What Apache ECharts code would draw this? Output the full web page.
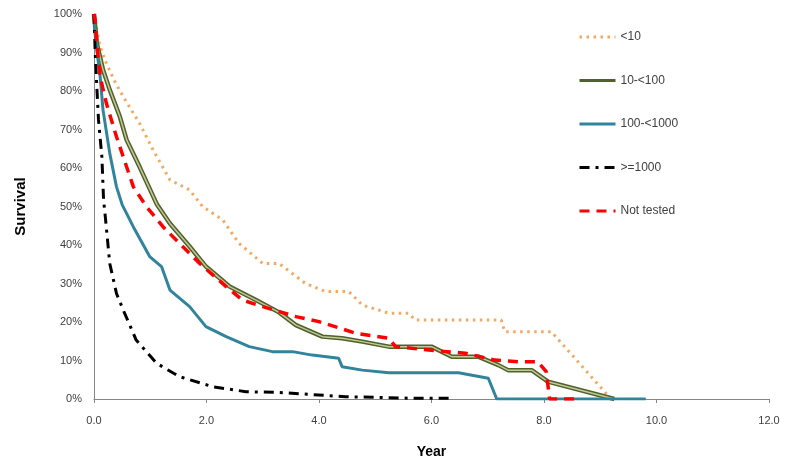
<!DOCTYPE html>
<html lang="en">
<head>
    <meta charset="UTF-8" />
    <title>Survival</title>
    <script src="https://cdn.jsdelivr.net/npm/echarts@6/dist/echarts.min.js"></script>
    <style type="text/css">
        html, body { margin: 0; padding: 0; background: #fff; }
        #chart { width: 785px; height: 466px; }
    </style>
</head>
<body>
    <div id="chart"></div>
    <script type="text/javascript">
        // years / survival (%)
        var yearsLt10 = [0, 0.1, 0.19, 0.35, 0.52, 0.81, 1.05, 1.35, 1.70, 1.93, 2.29, 2.58, 3.0, 3.29, 3.76, 4.12, 4.53, 4.77, 5.24, 5.59, 5.71, 7.24, 7.30, 8.13, 9.19];
        var survLt10 = [100, 92, 88.2, 83, 78.5, 71.6, 64.7, 56.9, 54.3, 50, 46.5, 40.4, 35.2, 35.2, 30, 27.9, 27.9, 24.4, 22.3, 22.3, 20.5, 20.5, 17.5, 17.5, 0];

        var years10 = [0, 0.05, 0.16, 0.28, 0.46, 0.58, 0.81, 1.12, 1.35, 1.70, 1.99, 2.41, 2.88, 3.29, 3.59, 4.06, 4.41, 4.77, 5.24, 6.0, 6.36, 6.83, 7.19, 7.36, 7.78, 8.07, 9.25];
        var surv10 = [100, 92.4, 85.5, 80.3, 73.3, 67.3, 60.3, 50.5, 45.6, 39.6, 34.4, 29.2, 25.7, 22.5, 19.2, 16.2, 15.8, 14.9, 13.6, 13.6, 11, 11, 8.8, 7.5, 7.5, 4.5, 0];

        var years100 = [0, 0.02, 0.05, 0.11, 0.16, 0.28, 0.40, 0.50, 0.70, 0.99, 1.20, 1.35, 1.70, 1.99, 2.35, 2.76, 3.17, 3.53, 3.88, 4.35, 4.41, 4.77, 5.24, 6.48, 7.01, 7.16, 9.81];
        var surv100 = [100, 95.8, 90.6, 83.7, 75.1, 63.8, 55.1, 50.5, 44.7, 37, 34.4, 28.3, 24, 18.8, 16.2, 13.6, 12.3, 12.3, 11.4, 10.6, 8.4, 7.5, 6.8, 6.8, 5.4, 0, 0];

        var years1000 = [0, 0.02, 0.05, 0.08, 0.14, 0.17, 0.2, 0.28, 0.40, 0.52, 0.75, 1.11, 1.52, 2.11, 2.70, 3.29, 3.82, 4.47, 5.06, 5.65, 6.35];
        var surv1000 = [100, 90.6, 81.1, 72.5, 62.9, 51.7, 47.5, 35.2, 27.4, 23.1, 15.3, 9.3, 5.8, 3.2, 1.9, 1.7, 1.2, 0.6, 0.4, 0.2, 0.2];

        var yearsNT = [0, 0.02, 0.05, 0.11, 0.22, 0.40, 0.52, 0.70, 0.93, 1.23, 1.64, 1.88, 2.35, 2.64, 3.0, 3.59, 4.0, 4.65, 5.24, 5.36, 5.95, 6.6, 7.13, 7.54, 7.89, 8.04, 8.10, 8.55];
        var survNT = [100, 98.4, 92.4, 83.7, 76.8, 68.1, 62.9, 55.1, 50, 44.7, 38.7, 35.2, 29.2, 25.7, 24, 21.4, 20.1, 17.1, 15.8, 13.6, 12.7, 11.9, 10.1, 9.7, 9.7, 7.1, 0, 0];

        var legendNames = ['<10', '10-<100', '100-<1000', '>=1000', 'Not tested'];

        function zip(xs, ys) {
            var out = [];
            for (var i = 0; i < xs.length; i++) {
                out.push([xs[i], ys[i]]);
            }
            return out;
        }

        function lineSeries(name, data, color, width, type) {
            return {
                name: name,
                type: 'line',
                data: data,
                symbol: 'none',
                showSymbol: false,
                silent: true,
                lineStyle: { color: color, width: width, type: type },
                itemStyle: { color: color }
            };
        }

        var chart = echarts.init(document.getElementById('chart'));
        var textColor = '#404040';
        var axisColor = '#868686';

        // 10-<100 is drawn as a double line: dark wide stroke with a light core
        var inner10 = lineSeries('10-<100 inner', zip(years10, surv10), '#c4c79b', 1.5, 'solid');

        var option = {
            animation: false,
            backgroundColor: '#fff',
            textStyle: { fontFamily: 'Liberation Sans, Arial, sans-serif' },
            grid: { left: 94, right: 16, top: 14, bottom: 67 },
            legend: {
                data: legendNames,
                orient: 'vertical',
                left: 573,
                top: 26,
                itemWidth: 36,
                itemHeight: 12,
                itemGap: 31.5,
                itemStyle: { opacity: 0 },
                lineStyle: { width: 3 },
                textStyle: { color: textColor, fontSize: 12 }
            },
            xAxis: {
                type: 'value',
                min: 0,
                max: 12,
                interval: 2,
                name: 'Year',
                nameLocation: 'middle',
                nameGap: 46,
                nameTextStyle: { color: '#000', fontSize: 14, fontWeight: 'bold' },
                axisLine: { lineStyle: { color: axisColor } },
                axisTick: { show: true, length: 4, lineStyle: { color: axisColor } },
                axisLabel: {
                    color: textColor,
                    fontSize: 11,
                    margin: 16,
                    formatter: function (v) { return v.toFixed(1); }
                },
                splitLine: { show: false }
            },
            yAxis: {
                type: 'value',
                min: 0,
                max: 100,
                interval: 10,
                name: 'Survival',
                nameLocation: 'middle',
                nameGap: 66,
                nameTextStyle: { color: '#000', fontSize: 15, fontWeight: 'bold' },
                axisLine: { show: true, lineStyle: { color: axisColor } },
                axisTick: { show: false },
                axisLabel: { color: textColor, fontSize: 11, margin: 12, formatter: '{value}%' },
                splitLine: { show: false }
            },
            series: [
                lineSeries('<10', zip(yearsLt10, survLt10), '#f4a862', 3, [2.5, 4.5]),
                lineSeries('10-<100', zip(years10, surv10), '#4f6228', 4.5, 'solid'),
                inner10,
                lineSeries('100-<1000', zip(years100, surv100), '#31849b', 3, 'solid'),
                lineSeries('>=1000', zip(years1000, surv1000), '#000000', 3, [10, 6, 3, 6]),
                lineSeries('Not tested', zip(yearsNT, survNT), '#ff0000', 3.5, [10, 7])
            ]
        };
        chart.setOption(option, true);
    </script>
</body>
</html>
